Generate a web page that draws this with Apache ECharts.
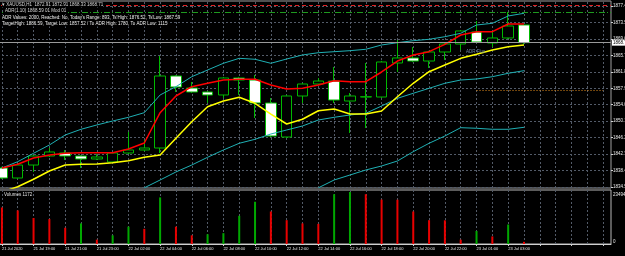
<!DOCTYPE html>
<html>
<head>
<meta charset="utf-8">
<script src="https://cdn.jsdelivr.net/npm/echarts@6/dist/echarts.min.js"></script>
<style>
html, body { margin: 0; padding: 0; background: #000; }
#chart { width: 625px; height: 256px; }
</style>
</head>
<body>
<div id="chart"></div>
<script>
// hourly bars, 34 real + empty slots on the right
var hours = ['21 Jul 17:00','21 Jul 18:00','21 Jul 19:00','21 Jul 20:00','21 Jul 21:00','21 Jul 22:00','21 Jul 23:00',
	'22 Jul 01:00','22 Jul 02:00','22 Jul 03:00','22 Jul 04:00','22 Jul 05:00','22 Jul 06:00','22 Jul 07:00','22 Jul 08:00',
	'22 Jul 09:00','22 Jul 10:00','22 Jul 11:00','22 Jul 12:00','22 Jul 13:00','22 Jul 14:00','22 Jul 15:00','22 Jul 16:00',
	'22 Jul 17:00','22 Jul 18:00','22 Jul 19:00','22 Jul 20:00','22 Jul 21:00','22 Jul 22:00','22 Jul 23:00',
	'23 Jul 01:00','23 Jul 02:00','23 Jul 03:00','23 Jul 04:00',
	'23 Jul 05:00','23 Jul 06:00','23 Jul 07:00','23 Jul 08:00','23 Jul 09:00'];
var tickLabels = ['21 Jul 2020','21 Jul 19:00','21 Jul 21:00','21 Jul 23:00','22 Jul 02:00','22 Jul 04:00','22 Jul 06:00',
	'22 Jul 08:00','22 Jul 10:00','22 Jul 12:00','22 Jul 14:00','22 Jul 16:00','22 Jul 18:00','22 Jul 20:00','22 Jul 22:00',
	'23 Jul 01:00','23 Jul 03:00'];

var openP  = [1839.00,1836.63,1839.71,1841.85,1842.56,1841.85,1841.14,1840.43,1842.56,1843.27,1843.74,1860.81,1857.96,1857.02,1856.31,1860.34,1859.86,1854.41,1846.35,1856.07,1858.91,1859.62,1854.88,1855.83,1855.83,1863.89,1865.08,1864.36,1866.50,1868.39,1871.24,1868.63,1869.82,1872.91];
var closeP = [1836.63,1839.71,1841.85,1842.80,1841.85,1841.14,1841.61,1842.56,1843.27,1843.74,1860.81,1858.20,1857.02,1856.31,1860.34,1859.86,1854.41,1846.59,1856.07,1858.91,1859.62,1855.12,1856.07,1855.90,1864.13,1865.08,1864.36,1866.50,1868.39,1871.48,1868.87,1869.82,1872.66,1868.71];
var lowP   = [1836.40,1836.40,1838.06,1841.60,1840.90,1839.00,1840.90,1840.20,1842.30,1843.00,1842.56,1857.02,1856.80,1854.41,1855.59,1856.31,1850.85,1846.35,1846.10,1854.41,1858.70,1854.41,1847.30,1848.48,1855.60,1861.76,1864.10,1862.71,1864.60,1866.97,1868.60,1867.68,1869.60,1868.33];
var highP  = [1839.30,1840.00,1842.00,1843.74,1843.27,1842.00,1842.30,1842.80,1847.54,1845.64,1865.55,1861.00,1859.39,1857.20,1860.60,1860.60,1861.05,1855.59,1856.30,1859.10,1860.30,1862.94,1856.78,1863.89,1864.40,1869.34,1867.68,1866.80,1868.60,1871.70,1873.85,1871.24,1875.98,1872.91];

var redLine    = [1839.00,1839.88,1841.37,1842.08,1842.49,1842.63,1842.63,1842.63,1843.51,1844.93,1852.11,1856.07,1858.27,1859.08,1859.86,1860.03,1860.03,1858.68,1857.73,1857.89,1858.68,1859.69,1859.46,1859.46,1861.76,1864.36,1865.79,1866.57,1868.32,1870.53,1871.31,1871.31,1873.13,1873.13];
var yellowLine = [1833.30,1834.57,1836.33,1838.29,1839.71,1839.88,1839.95,1840.26,1840.73,1841.54,1842.08,1846.04,1849.98,1853.53,1854.88,1855.76,1854.34,1851.80,1849.43,1850.55,1852.58,1852.99,1851.80,1851.80,1852.51,1855.90,1859.08,1861.83,1863.42,1865.00,1865.95,1866.97,1867.75,1868.16];
var cyanUp     = [1839.00,1840.50,1842.49,1844.45,1846.83,1848.18,1849.20,1850.14,1851.02,1852.11,1856.31,1858.27,1860.64,1862.23,1863.82,1865.00,1864.77,1863.82,1864.84,1865.79,1866.33,1866.57,1866.81,1867.14,1868.16,1868.70,1869.18,1869.51,1870.12,1870.93,1872.90,1873.30,1875.03,1875.67];
var cyanMid    = [null,null,null,null,null,null,null,null,null,1834.30,1836.16,1838.06,1839.71,1841.54,1843.27,1844.86,1845.81,1847.06,1848.01,1848.96,1850.38,1851.02,1851.57,1851.97,1853.70,1855.52,1856.71,1857.89,1859.08,1859.86,1860.10,1860.64,1861.45,1862.07];
var cyanLow    = [null,null,null,null,null,null,null,null,null,null,null,null,null,null,null,null,null,null,null,null,1834.30,1836.16,1837.34,1838.53,1839.48,1840.66,1842.87,1844.86,1846.59,1848.56,1848.42,1848.18,1848.18,1848.65];

var vol = [16500,15170,11750,11260,7340,9300,1960,3920,7830,6850,21050,7830,3920,4400,4900,12730,19090,14690,10770,9300,9100,22500,23494,22500,20070,20000,14690,10770,10700,1960,5870,3430,8810,980];

var yTicks = [1834.50,1838.40,1842.30,1846.20,1850.10,1854.00,1857.90,1861.80,1865.70,1869.60,1873.50,1877.40];
var dayHigh = 1877.60;
var adrLevel = 1875.81;
var targetLow = 1857.52;

var headerLines = [
	'\u25BE XAUUSD,H1  1872.91 1872.91 1868.33 1868.71',
	'ADR(1.10) 1868.59 01 Mod 01',
	"ADR Values: 2000, Reached: No, Today's Range: 893, Ts'High: 1876.52, Ts'Low: 1867.59",
	'TargetHigh: 1886.59, Target Low: 1857.52 / To ADR High: 1780, To ADR Low: 1115'
];

var FONT = '"Liberation Sans", Arial, sans-serif';
var chart = echarts.init(document.getElementById('chart'));

var candles = openP.map(function(o, i){ return [o, closeP[i], lowP[i], highP[i]]; });
var lastClose = closeP[closeP.length - 1];
var volMax = Math.max.apply(null, vol);
var volBars = vol.map(function(v, i){
	return { value: v, itemStyle: { color: (i > 0 && v > vol[i-1]) ? '#00a800' : '#e80000' } };
});

var gridStyle = { color: '#535b68', type: [2, 2], width: 1 };
var vLines = hours.map(function(h){ return { xAxis: h }; });
var hLines = yTicks.map(function(v){ return { yAxis: v }; });

function lineSeries(data, color, width){
	return {
		type: 'line', xAxisIndex: 0, yAxisIndex: 0, data: data, z: 4,
		symbol: 'none', connectNulls: false,
		lineStyle: { color: color, width: width }
	};
}

var gfx = headerLines.map(function(t, i){
	return {
		type: 'text', x: i === 1 ? 5 : 2, y: [2.5, 8.5, 14.8, 21.5][i], z: 100,
		style: { text: t, fill: i < 2 ? '#d8d8d8' : '#f0f0f0', font: '4.5px ' + FONT, backgroundColor: '#000' }
	};
});
gfx.push({ type: 'text', x: 4, y: 192, z: 100, style: { text: 'Volumes 1172', fill: '#e0e0e0', font: '4.5px ' + FONT } });
gfx.push({ type: 'text', x: 466, y: 49.5, z: 100, style: { text: 'ADR Flux', fill: '#6f8aa6', font: '4.5px ' + FONT } });

var option = {
	backgroundColor: '#000',
	animation: false,
	textStyle: { fontFamily: FONT },
	grid: [
		{ left: -6, top: 1, width: 617, height: 187, show: true, borderColor: '#a0a0a0', borderWidth: 1, outerBoundsMode: 'none', containLabel: false },
		{ left: -6, top: 190, width: 617, height: 54, show: true, borderColor: '#b8b8b8', borderWidth: 1, outerBoundsMode: 'none', containLabel: false }
	],
	xAxis: [
		{ type: 'category', gridIndex: 0, data: hours, boundaryGap: true,
			axisLine: { show: false }, axisTick: { show: false }, axisLabel: { show: false }, splitLine: { show: false } },
		{ type: 'category', gridIndex: 1, data: hours, boundaryGap: true,
			axisLine: { show: true, lineStyle: { color: '#d0d0d0' } },
			axisTick: { show: true, interval: 1, alignWithLabel: true, length: 2, lineStyle: { color: '#d0d0d0' } },
			axisLabel: { show: true, interval: 1, align: 'left', margin: 3, fontSize: 4, color: '#e8e8e8',
				formatter: function(v, i){ return (i % 2 === 0 && tickLabels[i / 2]) || ''; } },
			splitLine: { show: false } }
	],
	yAxis: [
		{ type: 'value', gridIndex: 0, position: 'right', min: 1834.263, max: 1878.585, scale: true,
			axisLine: { show: false },
			axisTick: { show: true, length: 2, customValues: yTicks, lineStyle: { color: '#d0d0d0' } },
			axisLabel: { customValues: yTicks, margin: 2, fontSize: 4.5, color: '#e8e8e8',
				formatter: function(v){ return v.toFixed(2); } },
			splitLine: { show: false } },
		{ type: 'value', gridIndex: 1, position: 'right', min: 0, max: 24400,
			axisLine: { show: false }, axisTick: { show: false },
			axisLabel: { customValues: [0, volMax], margin: 2, fontSize: 4.5, color: '#e8e8e8',
				formatter: function(v){ return v === 0 ? '{b|0}' : '{t|' + v + '}'; },
				rich: { t: { fontSize: 4.5, color: '#e8e8e8', padding: [5, 0, 0, 0] },
					b: { fontSize: 4.5, color: '#e8e8e8', padding: [0, 0, 5, 0] } } },
			splitLine: { show: false } }
	],
	graphic: gfx,
	series: [
		{
			// grid lines, behind everything
			type: 'line', xAxisIndex: 0, yAxisIndex: 0, data: [], z: 1,
			markLine: { silent: true, z: 1, symbol: ['none', 'none'], label: { show: false },
				lineStyle: gridStyle, data: vLines.concat(hLines) }
		},
		{
			type: 'candlestick', xAxisIndex: 0, yAxisIndex: 0, data: candles, z: 3, barWidth: 11,
			itemStyle: { color: '#000', color0: '#ffffff', borderColor: '#00b800', borderColor0: '#00b800', borderWidth: 1 },
			markLine: {
				silent: true, z: 6, symbol: ['none', 'none'], label: { show: false },
				data: [
					{ yAxis: dayHigh, lineStyle: { color: '#e02020', type: [4, 3], width: 1 } },
					{ yAxis: adrLevel, lineStyle: { color: '#1f9a1f', type: [6, 2, 1, 2], width: 1 } },
					[ { coord: [hours[30], targetLow], lineStyle: { color: '#e08a1a', type: [1, 2], width: 1 } },
					  { coord: [hours[hours.length - 1], targetLow] } ],
					{ yAxis: lastClose, lineStyle: { color: '#9a9a9a', type: 'solid', width: 1 },
						label: { show: true, position: 'end', distance: 1, formatter: lastClose.toFixed(2),
							backgroundColor: '#ffffff', color: '#000', fontSize: 4.5, padding: [1, 1, 0, 1] } }
				]
			}
		},
		lineSeries(cyanUp, '#1fb0b4', 1),
		lineSeries(cyanMid, '#1fb0b4', 1),
		lineSeries(cyanLow, '#1fb0b4', 1),
		lineSeries(yellowLine, '#ffff00', 1.5),
		lineSeries(redLine, '#ff0000', 1.5),
		{
			type: 'bar', xAxisIndex: 1, yAxisIndex: 1, data: volBars, barWidth: 2, z: 3,
			markLine: { silent: true, z: 1, symbol: ['none', 'none'], label: { show: false },
				lineStyle: gridStyle, data: vLines }
		}
	]
};
chart.setOption(option);
</script>
</body>
</html>
